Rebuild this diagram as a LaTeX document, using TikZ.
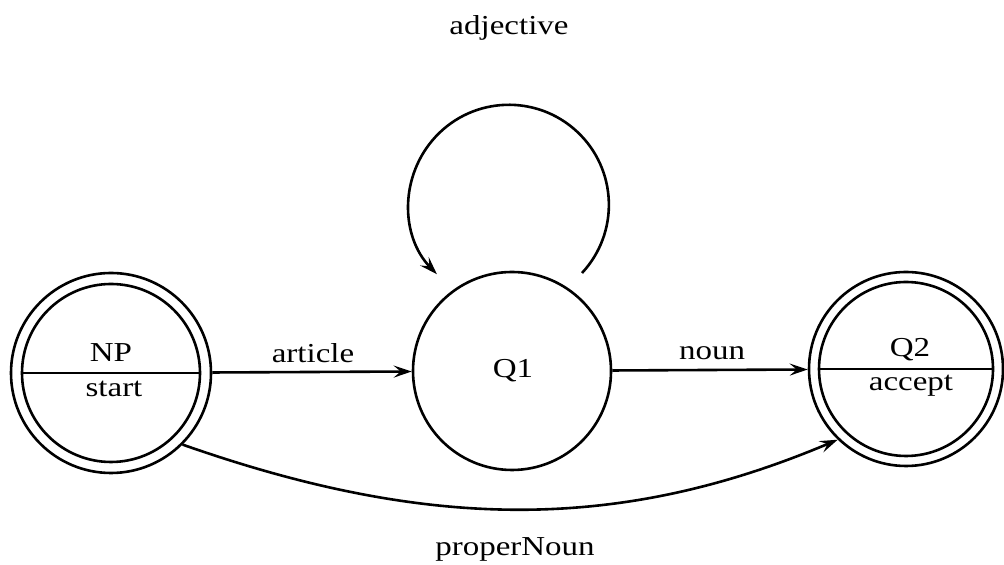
\documentclass[tikz,border=0pt]{standalone}
\usepackage{fontspec}
\setmainfont{Liberation Serif}
\usepackage{graphicx}
\usetikzlibrary{arrows.meta,calc}
\newcommand\sq[1]{\scalebox{1}[0.83]{#1}}
\begin{document}
\begin{tikzpicture}[x=0.5pt,y=0.5pt,
  line width=1.3pt,
  state/.style={circle,draw,inner sep=0pt,minimum size=#1},
  lbl/.style={font=\fontsize{16.5}{18}\selectfont, inner sep=0pt, anchor=base},
  arr/.style={-{Stealth[length=9pt,width=6pt,inset=3.5pt]}}]
\useasboundingbox (0,0) rectangle (1004,565);
% states
\node[state=100pt] (NP) at (111,192) {};
\node[state=99pt] (Q1) at (512,194) {};
\node[state=97pt] (Q2) at (906,196) {};
\draw (NP.center) circle[radius=89];
\draw (Q2.center) circle[radius=87];
\draw ($(NP.center)+(-89,0)$) -- ($(NP.center)+(89,0)$);
\draw ($(Q2.center)+(-87,0)$) -- ($(Q2.center)+(87,0)$);
% state texts
\node[lbl] (tNP) at (111,203) {\sq{NP}};
\node[lbl] (tstart) at (114,168) {\sq{start}};
\node[lbl] (tQ1) at (513,187) {\sq{Q1}};
\node[lbl] (tQ2) at (910,208) {\sq{Q2}};
\node[lbl] (taccept) at (911,174) {\sq{accept}};
% edges
\draw[arr] (NP) -- (Q1);
\draw[arr] (Q1) -- (Q2);
\draw[arr] ($(Q1.center)+(70,98)$) arc[start angle=-43,end angle=224,radius=100];
\draw[arr] (NP.-45) .. controls +(245,-86) and +(-220,-93) .. (Q2.226);
% edge labels
\node[lbl] (larticle) at (313,202) {\sq{article}};
\node[lbl] (lnoun) at (712,205) {\sq{noun}};
\node[lbl] (ladj) at (509,530) {\sq{adjective}};
\node[lbl] (lpn) at (515,9) {\sq{properNoun}};
\end{tikzpicture}
\end{document}
